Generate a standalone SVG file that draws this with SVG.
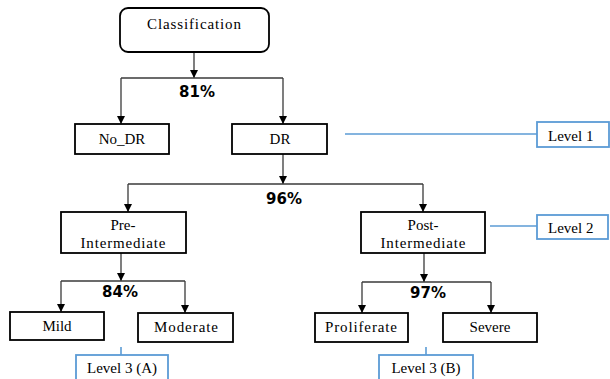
<svg xmlns="http://www.w3.org/2000/svg" width="610" height="379" viewBox="0 0 610 379">
<style>
.box{fill:#fff;stroke:#000;stroke-width:1.8}
.lvl{fill:#fff;stroke:#5b9bd5;stroke-width:1.8}
.lt{font-family:"Liberation Serif","Times New Roman",serif;font-size:15px;fill:#000}
.m{text-anchor:middle}
.pct{font-family:"DejaVu Sans",Verdana,sans-serif;font-weight:bold;font-size:15px;fill:#000;text-anchor:middle}
.c{fill:none;stroke:#3a3a3a;stroke-width:1.3}
.b{fill:none;stroke:#5b9bd5;stroke-width:1.6}
</style>
<defs>
<marker id="ah" viewBox="0 0 10 10" refX="10" refY="5" markerWidth="8" markerHeight="8" markerUnits="userSpaceOnUse" orient="auto">
<path d="M0,0 L10,5 L0,10 Z" fill="#000"/>
</marker>
</defs>
<g id="connectors">
<path class="c" d="M194,52 V78" marker-end="url(#ah)"/>
<path class="c" d="M121,78 H283"/>
<path class="c" d="M121,78 V124" marker-end="url(#ah)"/>
<path class="c" d="M283,78 V124" marker-end="url(#ah)"/>
<path class="c" d="M283,154 V184" marker-end="url(#ah)"/>
<path class="c" d="M128,184 H423"/>
<path class="c" d="M128,184 V212" marker-end="url(#ah)"/>
<path class="c" d="M423,184 V212" marker-end="url(#ah)"/>
<path class="c" d="M121,253 V281" marker-end="url(#ah)"/>
<path class="c" d="M61,281 H185"/>
<path class="c" d="M61,281 V312" marker-end="url(#ah)"/>
<path class="c" d="M185,281 V313" marker-end="url(#ah)"/>
<path class="c" d="M424,253 V282" marker-end="url(#ah)"/>
<path class="c" d="M362,282 H491"/>
<path class="c" d="M362,282 V313" marker-end="url(#ah)"/>
<path class="c" d="M491,282 V313" marker-end="url(#ah)"/>
<path class="b" d="M345,134 H537"/>
<path class="b" d="M490,226 H537"/>
<path class="b" d="M121,347 V355"/>
<path class="b" d="M426,347 V355"/>
</g>
<g id="classification">
<rect class="box" x="120" y="8" width="149" height="44" rx="8"/>
<text class="lt m" x="194" y="29" textLength="94" lengthAdjust="spacing">Classification</text>
</g>
<text class="pct" x="197" y="97">81%</text>
<g id="no_dr">
<rect class="box" x="75" y="124" width="94" height="30"/>
<text class="lt m" x="122" y="144">No_DR</text>
</g>
<g id="dr">
<rect class="box" x="232" y="124" width="95" height="30"/>
<text class="lt m" x="280" y="144">DR</text>
</g>
<g id="level1">
<rect class="lvl" x="537" y="122" width="72" height="25"/>
<text class="lt" x="548" y="141">Level 1</text>
</g>
<text class="pct" x="284" y="204">96%</text>
<g id="pre_intermediate">
<rect class="box" x="61" y="212" width="125" height="41"/>
<text class="lt m" x="123" y="230">Pre-</text>
<text class="lt m" x="123" y="248" textLength="85" lengthAdjust="spacing">Intermediate</text>
</g>
<g id="post_intermediate">
<rect class="box" x="361" y="212" width="124" height="41"/>
<text class="lt m" x="423" y="230">Post-</text>
<text class="lt m" x="423" y="248" textLength="85" lengthAdjust="spacing">Intermediate</text>
</g>
<g id="level2">
<rect class="lvl" x="537" y="215" width="71" height="24"/>
<text class="lt" x="548" y="233">Level 2</text>
</g>
<text class="pct" x="120" y="297">84%</text>
<text class="pct" x="428" y="298">97%</text>
<g id="mild">
<rect class="box" x="10" y="312" width="94" height="28"/>
<text class="lt m" x="57" y="331">Mild</text>
</g>
<g id="moderate">
<rect class="box" x="138" y="313" width="95" height="29"/>
<text class="lt m" x="186" y="332" textLength="64" lengthAdjust="spacing">Moderate</text>
</g>
<g id="proliferate">
<rect class="box" x="315" y="313" width="93" height="29"/>
<text class="lt m" x="361" y="332" textLength="72" lengthAdjust="spacing">Proliferate</text>
</g>
<g id="severe">
<rect class="box" x="443" y="313" width="94" height="29"/>
<text class="lt m" x="490" y="332">Severe</text>
</g>
<g id="level3a">
<rect class="lvl" x="76" y="355" width="92" height="30"/>
<text class="lt m" x="122" y="373">Level 3 (A)</text>
</g>
<g id="level3b">
<rect class="lvl" x="379" y="355" width="94" height="30"/>
<text class="lt m" x="426" y="373">Level 3 (B)</text>
</g>
</svg>
